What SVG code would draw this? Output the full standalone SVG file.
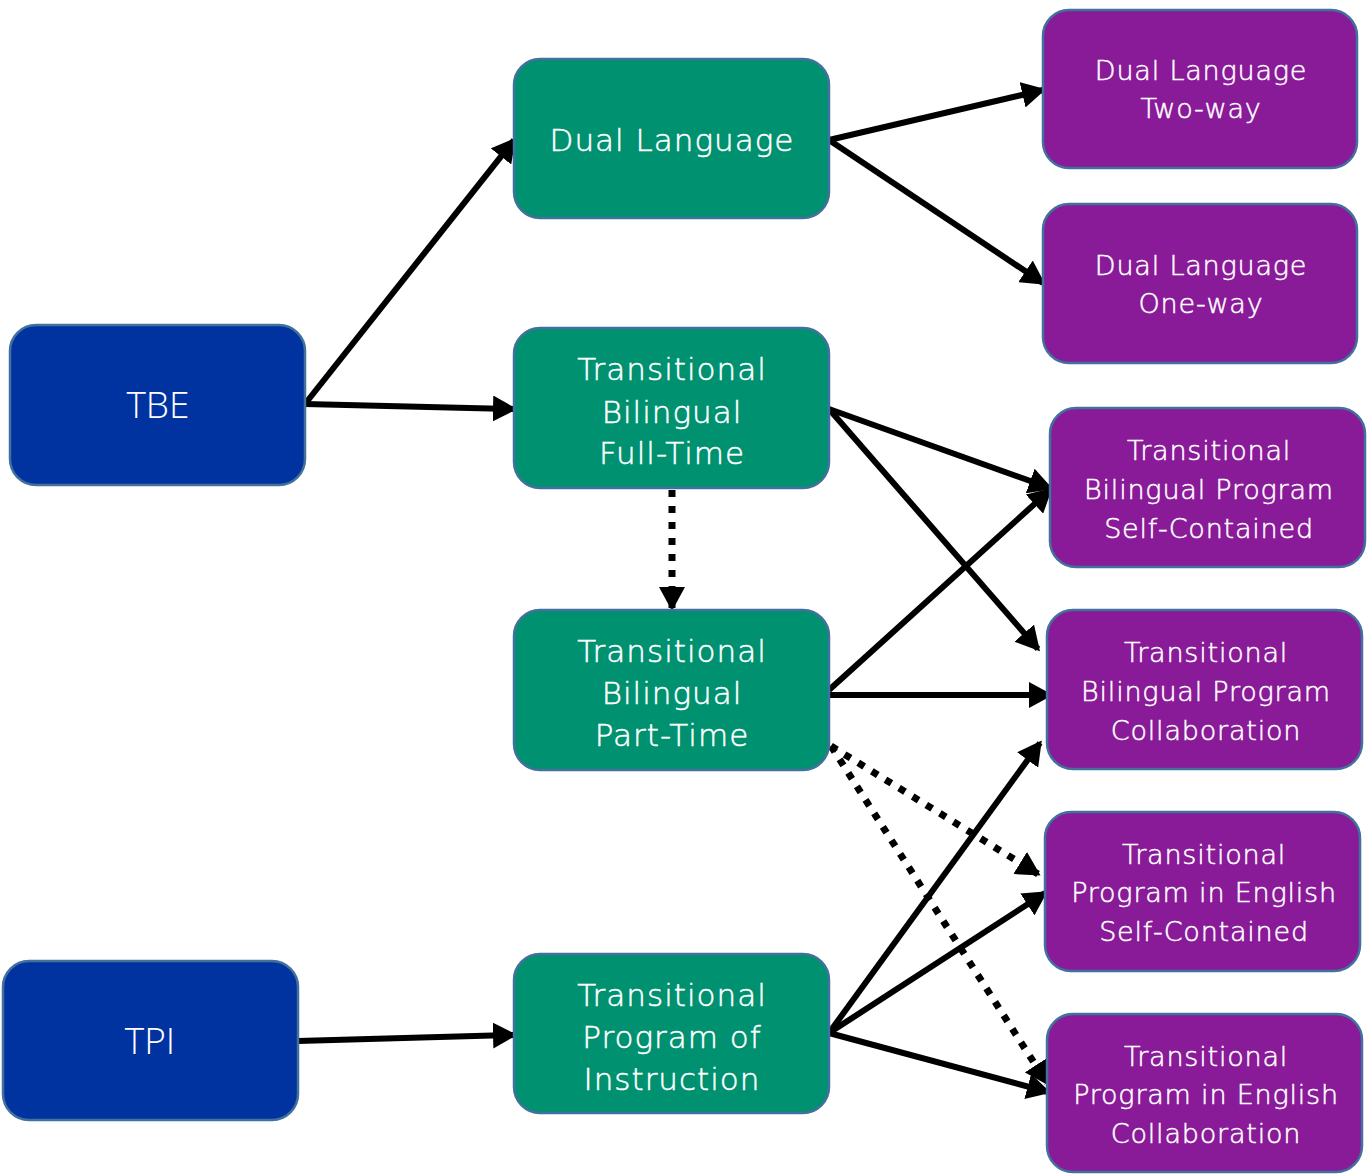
<svg xmlns="http://www.w3.org/2000/svg" width="1372" height="1174" viewBox="0 0 1372 1174">
<defs>
<style>
.box{stroke:#41719C;stroke-width:2.5}
.blue{fill:#0033A0}
.green{fill:#009170}
.purple{fill:#891A98}
.t{fill:#ffffff;stroke:#ffffff;stroke-width:0.5px;text-anchor:middle;font-family:"DejaVu Sans","Noto Sans",sans-serif;font-weight:200}
.tb{fill:#ffffff;text-anchor:middle;font-family:"Open Sans","Noto Sans",sans-serif;font-weight:300;font-size:37px}
.g{font-size:31px;letter-spacing:1px}
.p{font-size:27px;letter-spacing:0.8px}
.c{stroke:#000;stroke-width:6;fill:none;marker-end:url(#ah)}
.d{stroke:#000;stroke-width:7;fill:none;stroke-dasharray:7 9;marker-end:url(#ah)}
</style>
<marker id="ah" markerUnits="userSpaceOnUse" markerWidth="26" markerHeight="26" refX="21" refY="13" orient="auto">
<path d="M0,0 L24,13 L0,26 z" fill="#000"/>
</marker>
</defs>
<rect width="1372" height="1174" fill="#ffffff"/>

<g id="connectors">
<line class="c" x1="305" y1="404" x2="514" y2="140"/>
<line class="c" x1="305" y1="404" x2="514" y2="409"/>
<line class="c" x1="829" y1="140" x2="1043" y2="90"/>
<line class="c" x1="829" y1="140" x2="1043" y2="283"/>
<line class="c" x1="829" y1="409" x2="1050" y2="488"/>
<line class="c" x1="829" y1="409" x2="1038" y2="649"/>
<line class="d" x1="672" y1="490" x2="672" y2="608"/>
<line class="c" x1="829" y1="690" x2="1050" y2="490"/>
<line class="c" x1="829" y1="695" x2="1050" y2="695"/>
<line class="d" x1="831" y1="746" x2="1038" y2="874"/>
<line class="d" x1="831" y1="746" x2="1047" y2="1083"/>
<line class="c" x1="298" y1="1041" x2="514" y2="1035"/>
<line class="c" x1="829" y1="1033" x2="1040" y2="743"/>
<line class="c" x1="829" y1="1033" x2="1045" y2="893"/>
<line class="c" x1="829" y1="1033" x2="1048" y2="1092"/>
</g>

<g id="tbe">
<rect class="box blue" x="10" y="325" width="295" height="160" rx="26"/>
<text class="tb" x="158" y="418">TBE</text>
</g>
<g id="tpi">
<rect class="box blue" x="3" y="961" width="295" height="159" rx="26"/>
<text class="tb" x="150" y="1054">TPI</text>
</g>

<g id="dual-language">
<rect class="box green" x="514" y="59" width="315" height="159" rx="26"/>
<text class="t g" x="672" y="151">Dual Language</text>
</g>
<g id="tb-full-time">
<rect class="box green" x="514" y="328" width="315" height="160" rx="26"/>
<text class="t g" x="672" y="380">Transitional</text>
<text class="t g" x="672" y="423">Bilingual</text>
<text class="t g" x="672" y="464">Full-Time</text>
</g>
<g id="tb-part-time">
<rect class="box green" x="514" y="610" width="315" height="160" rx="26"/>
<text class="t g" x="672" y="662">Transitional</text>
<text class="t g" x="672" y="704">Bilingual</text>
<text class="t g" x="672" y="746">Part-Time</text>
</g>
<g id="tpi-program">
<rect class="box green" x="514" y="954" width="315" height="159" rx="26"/>
<text class="t g" x="672" y="1006">Transitional</text>
<text class="t g" x="672" y="1048">Program of</text>
<text class="t g" x="672" y="1090">Instruction</text>
</g>

<g id="dl-two-way">
<rect class="box purple" x="1043" y="10" width="314" height="158" rx="26"/>
<text class="t p" x="1201" y="80">Dual Language</text>
<text class="t p" x="1201" y="118">Two-way</text>
</g>
<g id="dl-one-way">
<rect class="box purple" x="1043" y="204" width="314" height="159" rx="26"/>
<text class="t p" x="1201" y="275">Dual Language</text>
<text class="t p" x="1201" y="313">One-way</text>
</g>
<g id="tbp-self-contained">
<rect class="box purple" x="1050" y="408" width="315" height="159" rx="26"/>
<text class="t p" x="1209" y="460">Transitional</text>
<text class="t p" x="1209" y="499">Bilingual Program</text>
<text class="t p" x="1209" y="538">Self-Contained</text>
</g>
<g id="tbp-collaboration">
<rect class="box purple" x="1047" y="610" width="315" height="159" rx="26"/>
<text class="t p" x="1206" y="662">Transitional</text>
<text class="t p" x="1206" y="701">Bilingual Program</text>
<text class="t p" x="1206" y="740">Collaboration</text>
</g>
<g id="tpe-self-contained">
<rect class="box purple" x="1045" y="812" width="315" height="159" rx="26"/>
<text class="t p" x="1204" y="864">Transitional</text>
<text class="t p" x="1204" y="902">Program in English</text>
<text class="t p" x="1204" y="941">Self-Contained</text>
</g>
<g id="tpe-collaboration">
<rect class="box purple" x="1047" y="1014" width="315" height="158" rx="26"/>
<text class="t p" x="1206" y="1066">Transitional</text>
<text class="t p" x="1206" y="1104">Program in English</text>
<text class="t p" x="1206" y="1143">Collaboration</text>
</g>
</svg>
